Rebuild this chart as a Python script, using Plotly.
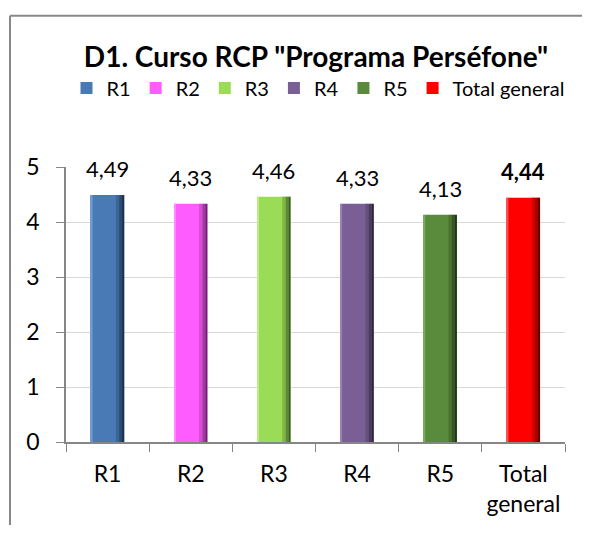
import plotly.graph_objects as go

categories = ["R1", "R2", "R3", "R4", "R5", "Total<br>general"]
series_names = ["R1", "R2", "R3", "R4", "R5", "Total general"]
values = [4.49, 4.33, 4.46, 4.33, 4.13, 4.44]
colors = ["#4a7ab5", "#ff5cff", "#9bdc57", "#7a5f96", "#5a8a3c", "#ff0000"]
light = ["#6f9bd2", "#ff8cff", "#b8ee82", "#9a82b4", "#7aab58", "#ff5050"]
dark1 = ["#3d6595", "#d64dd6", "#80b848", "#654f7c", "#4a7232", "#d40000"]
dark2 = ["#2c4a6d", "#a03aa0", "#5f8a35", "#4b3b5c", "#375525", "#a00000"]
dark3 = ["#1c3048", "#6a266a", "#3e5a22", "#31263c", "#233718", "#6a0000"]
y_ticks = [0, 1, 2, 3, 4, 5]

FONT = "Lato"
# the page has an 8px body margin on every side; keep the figure inside it
OFF = 8
W, H = 590 - 2 * OFF, 537 - 2 * OFF
PX0, PX1 = 66 - OFF, 565 - OFF      # plot area x (figure px)
PY0, PY1 = 167 - OFF, 445 - OFF     # plot area y top/bottom (figure px)
PW, PH = PX1 - PX0, PY1 - PY0

fig = go.Figure()

BW = 0.4
for i in range(len(categories)):
    fig.add_trace(go.Bar(
        x=[categories[i]], y=[values[i]], name=series_names[i],
        marker=dict(color=colors[i], line=dict(width=0)),
        width=BW, offset=-BW / 2, showlegend=True,
    ))
    strips = [(light[i], -0.2, 0.02), (dark1[i], 0.10, 0.04), (dark2[i], 0.14, 0.035), (dark3[i], 0.175, 0.025)]
    for col, off, w in strips:
        fig.add_trace(go.Bar(
            x=[categories[i]], y=[values[i]], name=series_names[i],
            marker=dict(color=col, line=dict(width=0)),
            width=w, offset=off, showlegend=False, hoverinfo="skip",
        ))

for i, v in enumerate(values):
    fig.add_annotation(
        x=categories[i], y=v, text=f"{v:.2f}".replace(".", ","),
        showarrow=False, yanchor="bottom", yshift=11,
        font=dict(family=FONT, size=22, color="#000000",
                  weight="bold" if i == len(values) - 1 else "normal"),
    )

# chart border (left and top edges are visible in the reference)
xl = (10 - 66) / PW
xr = (W - PX0) / PW
yt = (445 - 14) / PH
yb = -(H - PY1) / PH
fig.add_shape(type="line", xref="paper", yref="paper", x0=xl, x1=xl,
              y0=yb, y1=yt, line=dict(color="#888888", width=2), layer="below")
fig.add_shape(type="line", xref="paper", yref="paper", x0=xl, x1=xr,
              y0=yt, y1=yt, line=dict(color="#888888", width=2), layer="below")

fig.update_layout(
    width=W, height=H,
    margin=dict(l=PX0, r=W - PX1, t=PY0, b=H - PY1),
    paper_bgcolor="white", plot_bgcolor="white",
    barmode="overlay",
    separators=",.",
    title=dict(text='<b>D1. Curso RCP "Programa Perséfone"</b>',
               x=(316 - OFF) / W, xanchor="center", y=1 - (57 - OFF) / H, yanchor="middle",
               font=dict(family=FONT, size=28, color="#000000")),
    legend=dict(orientation="h", xref="container", yref="container",
                x=(318 - OFF) / W, xanchor="center", y=1 - (88 - OFF) / H, yanchor="middle",
                font=dict(family=FONT, size=20, color="#000000"),
                itemwidth=30, tracegroupgap=0, bgcolor="rgba(0,0,0,0)"),
    font=dict(family=FONT, size=22, color="#000000"),
    showlegend=True,
)

fig.update_yaxes(range=[0, 5], tickvals=y_ticks, ticktext=[str(t) for t in y_ticks],
                 showgrid=True, gridcolor="#d9d9d9", gridwidth=1,
                 showline=True, linecolor="#868686", linewidth=1.5,
                 ticks="outside", ticklen=8, tickcolor="#868686",
                 ticklabelstandoff=12, zeroline=False,
                 tickfont=dict(family=FONT, size=23, color="#000000"))
fig.update_xaxes(showline=True, linecolor="#868686", linewidth=1.5,
                 ticks="outside", ticklen=8, tickcolor="#868686", tickson="boundaries",
                 ticklabelstandoff=11,
                 tickfont=dict(family=FONT, size=23, color="#000000"))

fig.write_html("out.html")
